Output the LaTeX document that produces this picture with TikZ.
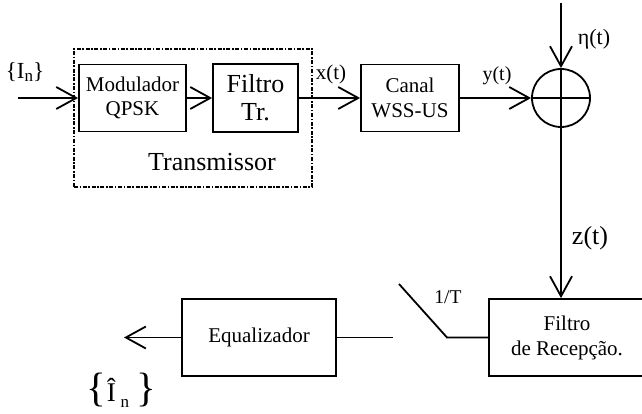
\documentclass[tikz,border=0pt]{standalone}
\usepackage{fontspec}
\setmainfont{Liberation Serif}
\usetikzlibrary{arrows.meta}

\newcommand\fs[2]{\fontsize{#1pt}{#2pt}\selectfont}

\tikzset{
  wire/.style={line width=1.8pt},
  arr/.style={wire, -{Straight Barb[length=20pt,width=22pt,line width=1.8pt]}},
  blockbox/.style={draw, line width=1.8pt, rectangle, align=center, inner sep=0pt},
  lbl/.style={inner sep=0pt}
}

\begin{document}
\begin{tikzpicture}[x=1pt, y=-1pt]
  \useasboundingbox (0,0) rectangle (642,414);

  % transmitter group (dash-dot frame)
  \node[draw, line width=1.6pt, dash pattern=on 4pt off 1.6pt on 1.6pt off 1.6pt,
        minimum width=238pt, minimum height=138pt, inner sep=0pt] (tx) at (193,118) {};
  \node[lbl, font=\fs{26}{30}] (txlbl) at (212,162) {Transmissor};

  % blocks
  \node[blockbox, minimum width=107pt, minimum height=67pt, font=\fs{21}{24}] (mod) at (132.5,98) {Modulador\\QPSK};
  \node[blockbox, minimum width=85pt, minimum height=68pt, font=\fs{26}{28}] (filt) at (255.5,98) {Filtro\\Tr.};
  \node[blockbox, minimum width=98pt, minimum height=67pt, font=\fs{21}{25}] (canal) at (410,98) {Canal\\WSS-US};
  \node[draw, circle, line width=1.8pt, minimum size=58pt, inner sep=0pt] (sum) at (561,98) {};
  \node[blockbox, minimum width=156pt, minimum height=77pt, font=\fs{21}{25}] (rx) at (567,337.5) {Filtro\\de Recepção.};
  \node[blockbox, minimum width=154pt, minimum height=77pt, font=\fs{21}{25}] (eq) at (259,337.5) {Equalizador};

  % free ends and switch points
  \coordinate (in) at (18,98);
  \coordinate (ntop) at (561,3);
  \coordinate (pivot) at (447,337.5);
  \coordinate (blade) at (399,284);
  \coordinate (stub) at (393,337.5);
  \coordinate (out) at (124,337.5);

  % forward path
  \draw[arr] (in) -- (mod.west);
  \draw[arr] (mod.east) -- (filt.west);
  \draw[arr] (filt.east) -- (canal.west);
  \draw[arr] (canal.east) -- (sum.west);

  % summing junction cross
  \draw[wire] (sum.west) -- (sum.east);
  \draw[wire] (sum.north) -- (sum.south);
  \draw[arr] (ntop) -- (sum.north);
  \draw[arr] (sum.south) -- (sum.south |- rx.north);

  % sampler switch and receive path
  \draw[wire] (rx.west) -- (pivot) -- (blade);
  \draw[wire] (stub) -- (eq.east);
  \draw[arr] (eq.west) -- (out);

  % signal labels
  \node[lbl, font=\fs{23}{26}] (lin) at (25,72) {\{I\raisebox{-3pt}{\fs{17}{20}n}\}};
  \node[lbl, font=\fs{21}{24}] (lx) at (331,74) {x(t)};
  \node[lbl, font=\fs{20}{24}] (ly) at (497,76) {y(t)};
  \node[lbl, font=\fs{22}{24}] (leta) at (594,39) {η(t)};
  \node[lbl, font=\fs{26}{28}] (lz) at (590,238) {z(t)};
  \node[lbl, font=\fs{19.5}{22}] (lT) at (448,297) {1/T};
  \node[lbl] (lout) at (121,390)
    {{\fs{41}{42}\{}\hspace{1pt}{\fs{27}{30}Î}\hspace{5pt}\raisebox{-6pt}{\fs{17}{20}n}\hspace{7pt}{\fs{41}{42}\}}};
\end{tikzpicture}
\end{document}
